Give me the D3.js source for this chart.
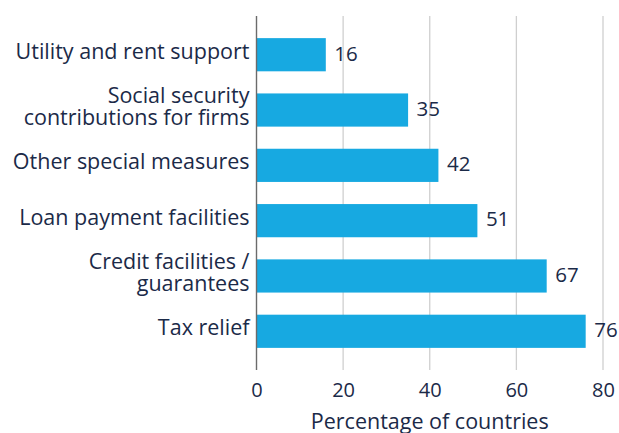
<!DOCTYPE html>
<html>
<head>
<meta charset="utf-8">
<script src="https://cdn.jsdelivr.net/npm/d3@7"></script>
<style>
  html, body { margin: 0; padding: 0; background: #fff; }
  svg text { font-family: "Open Sans", "Noto Sans", sans-serif; fill: #1b2a48; }
</style>
</head>
<body>
<svg id="chart" width="619" height="433"></svg>
<script>
// Measures, each label split into its display lines
const categories = [
  ["Utility and rent support"],
  ["Social security", "contributions for firms"],
  ["Other special measures"],
  ["Loan payment facilities"],
  ["Credit facilities /", "guarantees"],
  ["Tax relief"]
];
const values = [16, 35, 42, 51, 67, 76];
const xTicks = [0, 20, 40, 60, 80];
const xTitle = "Percentage of countries";

const svg = d3.select("#chart");
const plotTop = 16, plotBottom = 370;
const plotLeft = 256.5, plotRight = 603;

const x = d3.scaleLinear().domain([0, 80]).range([plotLeft, plotRight]);
const y = d3.scaleBand()
  .domain(d3.range(categories.length))
  .range([plotTop, plotBottom])
  .paddingInner(0.4)
  .paddingOuter(0.4);

const fsLabel = 21.5, fsValue = 20.5, fsTick = 20;

// Vertical gridlines
svg.append("g")
  .selectAll("line")
  .data(xTicks.filter(d => d !== 0))
  .join("line")
  .attr("x1", d => x(d)).attr("x2", d => x(d))
  .attr("y1", plotTop).attr("y2", plotBottom)
  .attr("stroke", "#cfcfcf").attr("stroke-width", 1.3);

// Bars
svg.append("g")
  .selectAll("rect")
  .data(values)
  .join("rect")
  .attr("x", x(0))
  .attr("y", (d, i) => y(i))
  .attr("width", d => x(d) - x(0))
  .attr("height", y.bandwidth())
  .attr("fill", "#17a9e1");

// Zero baseline
svg.append("line")
  .attr("x1", x(0)).attr("x2", x(0))
  .attr("y1", plotTop).attr("y2", plotBottom)
  .attr("stroke", "#6b6b6b").attr("stroke-width", 1.4);

// Value labels
svg.append("g")
  .selectAll("text")
  .data(values)
  .join("text")
  .attr("x", d => x(d) + 8.5)
  .attr("y", (d, i) => y(i) + y.bandwidth() / 2 + 5.8)
  .attr("font-size", fsValue)
  .text(d => d);

// Category labels
const lineH = 22.3;
const cat = svg.append("g")
  .selectAll("text")
  .data(categories)
  .join("text")
  .attr("text-anchor", "end")
  .attr("font-size", fsLabel)
  .attr("y", (d, i) => y(i) + y.bandwidth() / 2 + 4);
cat.selectAll("tspan")
  .data(d => d.map((t, j) => ({ t, j, n: d.length })))
  .join("tspan")
  .attr("x", x(0) - 7)
  .attr("dy", d => d.j === 0 ? -(d.n - 1) * lineH / 2 : lineH)
  .text(d => d.t);

// X axis tick labels
const axis = d3.axisBottom(x).tickValues(xTicks).tickSize(0).tickPadding(0);
const ax = svg.append("g")
  .attr("transform", `translate(0, 396.5)`)
  .call(axis);
ax.select(".domain").remove();
ax.selectAll("text")
  .attr("font-size", fsTick)
  .attr("dy", 0)
  .style("font-family", '"Open Sans", "Noto Sans", sans-serif')
  .attr("fill", "#1b2a48");

// X axis title
svg.append("text")
  .attr("x", (x(0) + x(80)) / 2)
  .attr("y", 429)
  .attr("text-anchor", "middle")
  .attr("font-size", fsLabel)
  .text(xTitle);
</script>
</body>
</html>
